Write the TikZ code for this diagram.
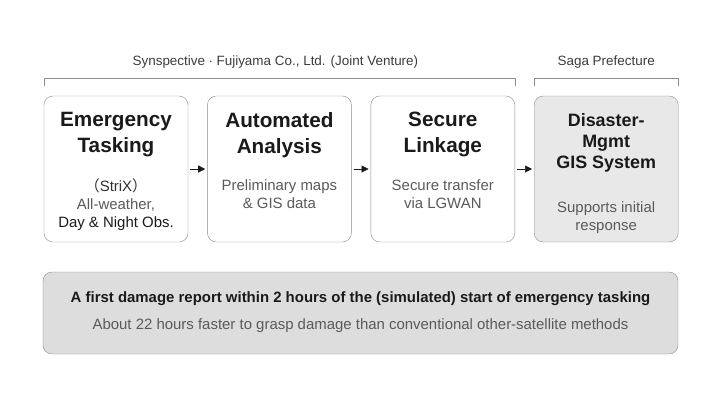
\documentclass[tikz,border=0pt]{standalone}
\usepackage{fontspec}
\setmainfont{Liberation Sans}
\newfontfamily\cjk{Noto Sans CJK JP}
\usetikzlibrary{arrows.meta, positioning, calc}
\definecolor{ink}{HTML}{1A1A1A}
\definecolor{muted}{HTML}{5A5A5A}
\definecolor{edge}{HTML}{8C8C8C}
\definecolor{govfill}{HTML}{E8E8E8}
\definecolor{notefill}{HTML}{DDDDDD}
\tikzset{
    stepbox/.style={rectangle, draw=edge, rounded corners=9bp, minimum width=144bp, minimum height=146bp, inner sep=0pt, fill=white},
    arrow/.style={-{Triangle[length=7bp, width=7bp]}, draw=ink, semithick}
}

\begin{document}
\begin{tikzpicture}[x=1bp, y=-1bp, node distance=19bp,
    title/.style={anchor=north, inner sep=0pt, align=center, text=ink, font=\fontsize{20.8}{26}\selectfont\bfseries},
    sub/.style={anchor=north, inner sep=0pt, align=center, text=muted, font=\fontsize{15}{18}\selectfont},
    group/.style={inner sep=0pt, text=ink!85, font=\fontsize{13.5}{16}\selectfont},
    bracket/.style={draw=edge, thin}]

    \useasboundingbox (0,0) rectangle (720,405);

    % Process boxes
    \node (t1) [stepbox] at (116,169) {};
    \node (t2) [stepbox, right=of t1] {};
    \node (t3) [stepbox, right=of t2] {};
    \node (t4) [stepbox, right=of t3, fill=govfill] {};

    % Box texts
    \node (t1h) [title] at ($(t1.north)+(0,16.5)$) {Emergency\\Tasking};
    \node (t1s) [sub] at ($(t1.north)+(0,82.5)$) {\textcolor{ink!90}{{\cjk （}StriX{\cjk ）}}\\All-weather,\\\textcolor{ink}{Day \& Night Obs.}};
    \node (t2h) [title] at ($(t2.north)+(0,16.5)$) {Automated\\Analysis};
    \node (t2s) [sub] at ($(t2.north)+(0,83.5)$) {Preliminary maps\\\& GIS data};
    \node (t3h) [title] at ($(t3.north)+(0,16.5)$) {Secure\\Linkage};
    \node (t3s) [sub] at ($(t3.north)+(0,83.5)$) {Secure transfer\\via LGWAN};
    \node (t4h) [title, font=\fontsize{18}{21.5}\selectfont\bfseries] at ($(t4.north)+(0,17)$) {Disaster-\\Mgmt\\GIS System};
    \node (t4s) [sub] at ($(t4.north)+(0,105.5)$) {Supports initial\\response};

    % Arrows
    \draw [arrow] ($(t1.east)+(2,0)$) -- ($(t2.west)+(-2,0)$);
    \draw [arrow] ($(t2.east)+(2,0)$) -- ($(t3.west)+(-2,0)$);
    \draw [arrow] ($(t3.east)+(2,0)$) -- ($(t4.west)+(-2,0)$);

    % Group brackets
    \draw [bracket] ($(t1.north west)+(0,-10)$) -- ++(0,-8) -| ($(t3.north east)+(0,-10)$);
    \draw [bracket] ($(t4.north west)+(0,-10)$) -- ++(0,-8) -| ($(t4.north east)+(0,-10)$);
    \node (jv) [group] at ($(t1.north west)!0.5!(t3.north east)+(-4,-34)$) {Synspective $\cdot$ Fujiyama Co., Ltd. (Joint Venture)};
    \node (saga) [group] at ($(t4.north)+(0,-34)$) {Saga Prefecture};

    % Result note
    \node (note) [stepbox, fill=notefill, minimum width=635bp, minimum height=82bp] at (360.5,313) {};
    \node (noteh) [inner sep=0pt, text=ink, font=\fontsize{15}{18}\selectfont\bfseries] at ($(note.north)+(0,27)$) {A first damage report within 2 hours of the (simulated) start of emergency tasking};
    \node (notes) [inner sep=0pt, text=muted, font=\fontsize{15}{18}\selectfont] at ($(note.north)+(0,54)$) {About 22 hours faster to grasp damage than conventional other-satellite methods};
\end{tikzpicture}
\end{document}
